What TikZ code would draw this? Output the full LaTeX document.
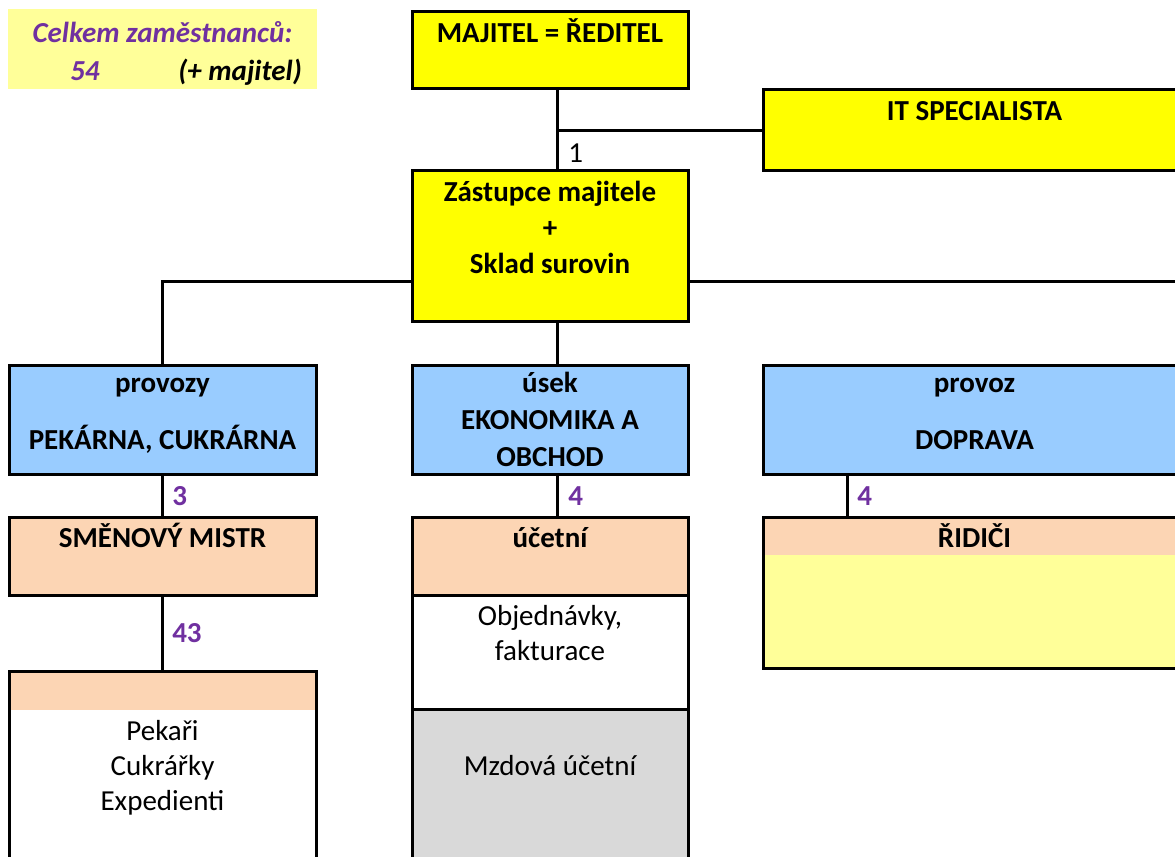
\documentclass[tikz,border=0pt]{standalone}
\usepackage{fontspec}
\setmainfont{Carlito}
\definecolor{yel}{HTML}{FFFF00}
\definecolor{lyel}{HTML}{FFFF99}
\definecolor{blu}{HTML}{99CCFF}
\definecolor{peach}{HTML}{FCD5B4}
\definecolor{gry}{HTML}{D9D9D9}
\definecolor{purp}{HTML}{7030A0}
\def\PXU{0.75pt}
\begin{document}
\begin{tikzpicture}[x=0.75pt,y=-0.75pt,
  box/.style={draw=black, line width=2.25pt, inner sep=0pt, outer sep=0pt},
  band/.style={inner sep=0pt, outer sep=0pt, draw=none},
  conn/.style={draw=black, line width=2.25pt},
  txt/.style={inner sep=0pt, anchor=base, font=\fontsize{21.75}{26}\selectfont},
  btxt/.style={txt, font=\fontsize{21.75}{26}\selectfont\bfseries},
  num/.style={btxt, anchor=base west, text=purp},
  sumtxt/.style={txt, font=\fontsize{21.75}{26}\selectfont\bfseries\itshape}]
\clip (0,0) rectangle (1175,857);
% summary
\node[band, fill=lyel, minimum width=309*\PXU, minimum height=80*\PXU] (sum) at (162.5,49) {};
\node[sumtxt, text=purp] (s1) at (162.5,42) {Celkem zaměstnanců:};
\node[sumtxt, text=purp, anchor=base west] (s2) at (70,80) {54};
\node[sumtxt, anchor=base east] (s3) at (302,80) {(+ majitel)};
% boxes
\node[box, fill=yel, minimum width=276*\PXU, minimum height=77*\PXU] (maj) at (550,50) {};
\node[box, fill=yel, minimum width=423*\PXU, minimum height=81*\PXU] (it) at (974.5,130) {};
\node[box, fill=yel, minimum width=276*\PXU, minimum height=151*\PXU] (zast) at (550,246) {};
\node[box, fill=blu, minimum width=307*\PXU, minimum height=108.5*\PXU] (prov1) at (162.5,419.75) {};
\node[box, fill=blu, minimum width=276*\PXU, minimum height=108.5*\PXU] (usek) at (550,419.75) {};
\node[box, fill=blu, minimum width=423*\PXU, minimum height=108.5*\PXU] (prov2) at (974.5,419.75) {};
\node[box, fill=peach, minimum width=307*\PXU, minimum height=78.5*\PXU] (smen) at (162.5,556.25) {};
\node[box, fill=peach, minimum width=276*\PXU, minimum height=78.5*\PXU] (ucet) at (550,556.25) {};
\node[box, fill=white, minimum width=276*\PXU, minimum height=114*\PXU] (obj) at (550,652.5) {};
\node[box, fill=gry, minimum width=276*\PXU, minimum height=170.5*\PXU] (mzd) at (550,794.75) {};
\node[box, fill=lyel, minimum width=423*\PXU, minimum height=151.5*\PXU] (rid) at (974.5,592.75) {};
\node[band, fill=peach, minimum width=421.5*\PXU, minimum height=36.5*\PXU] (ridband) at (975.25,536.75) {};
\node[box, fill=white, minimum width=307*\PXU, minimum height=209*\PXU] (bl) at (162.5,775.5) {};
\node[band, fill=peach, minimum width=304*\PXU, minimum height=37.5*\PXU] (blband) at (162.5,691.25) {};
% helper coordinates
\coordinate (xmid) at (557,0);
\coordinate (xr) at (847,0);
\coordinate (ybus) at (0,281);
\coordinate (rend) at (1185,281);
% connectors
\draw[conn] (maj.south -| xmid) -- (zast.north -| xmid);
\draw[conn] (xmid |- it.west) -- (it.west);
\draw[conn] (zast.west |- ybus) -- (prov1.north |- ybus) -- (prov1.north);
\draw[conn] (zast.east |- ybus) -- (rend);
\draw[conn] (zast.south -| xmid) -- (usek.north -| xmid);
\draw[conn] (prov1.south) -- (smen.north);
\draw[conn] (usek.south -| xmid) -- (ucet.north -| xmid);
\draw[conn] (prov2.south -| xr) -- (rid.north -| xr);
\draw[conn] (smen.south) -- (bl.north);
% texts
\node[btxt] (tmaj) at (550,42) {MAJITEL = ŘEDITEL};
\node[btxt] (tit) at (974.5,120) {IT SPECIALISTA};
\node[txt, anchor=base west] (n1) at (568,162) {1};
\node[btxt] (tz1) at (550,201) {Zástupce majitele};
\node[btxt] (tz2) at (550,237) {+};
\node[btxt] (tz3) at (550,273) {Sklad surovin};
\node[btxt] (tp1a) at (162.5,392) {provozy};
\node[btxt] (tp1b) at (162.5,449) {PEKÁRNA, CUKRÁRNA};
\node[btxt] (tu1) at (550,392) {úsek};
\node[btxt] (tu2) at (550,429) {EKONOMIKA A};
\node[btxt] (tu3) at (550,466) {OBCHOD};
\node[btxt] (tp2a) at (974.5,392) {provoz};
\node[btxt] (tp2b) at (974.5,449) {DOPRAVA};
\node[num] (n3) at (172,505) {3};
\node[num] (n4a) at (568,505) {4};
\node[num] (n4b) at (857,505) {4};
\node[num] (n43) at (172,642) {43};
\node[btxt] (tsm) at (162.5,547) {SMĚNOVÝ MISTR};
\node[btxt] (tuc) at (550,547) {účetní};
\node[btxt] (tri) at (974.5,547) {ŘIDIČI};
\node[txt] (tob1) at (550,625) {Objednávky,};
\node[txt] (tob2) at (550,660) {fakturace};
\node[txt] (tmz) at (550,775) {Mzdová účetní};
\node[txt] (tpe1) at (162.5,740) {Pekaři};
\node[txt] (tpe2) at (162.5,775) {Cukrářky};
\node[txt] (tpe3) at (162.5,810) {Expedienti};
\end{tikzpicture}
\end{document}
